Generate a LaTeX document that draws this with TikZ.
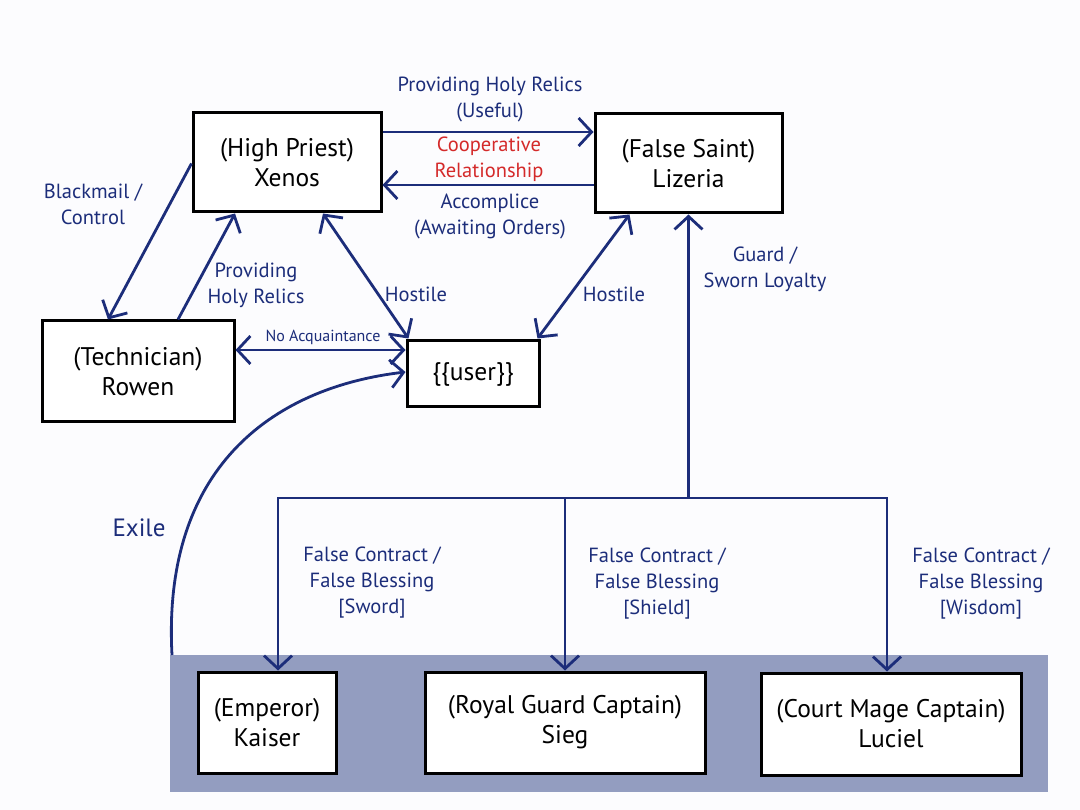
\documentclass[tikz,border=0pt]{standalone}
\usepackage{fontspec}
\setmainfont{PT Sans}
\usetikzlibrary{arrows.meta,calc}
\definecolor{navy}{HTML}{1C2D7A}
\definecolor{band}{HTML}{939DC0}
\definecolor{redlbl}{HTML}{D42A2A}
\definecolor{bg}{HTML}{FCFCFE}
\tikzset{
  person/.style={draw=black,line width=3pt,fill=white,align=center,inner sep=2pt,
    font=\fontsize{25.5}{30}\selectfont,text=black},
  tip/.style={},
  rel/.style={draw=navy,line width=2.8pt,-{Straight Barb[length=13pt,width=28pt,line width=2.8pt]}},
  relboth/.style={draw=navy,line width=2.8pt,{Straight Barb[length=13pt,width=28pt,line width=2.8pt]}-{Straight Barb[length=13pt,width=28pt,line width=2.8pt]}},
  plain/.style={draw=navy,line width=2.8pt},
  lbl/.style={text=navy,align=center,font=\fontsize{20.5}{26}\selectfont,inner sep=0pt},
}
\begin{document}
\begin{tikzpicture}[x=1pt,y=-1pt]
\useasboundingbox[fill=bg] (0,0) rectangle (1080,810);
% band
\fill[band] (170,655) rectangle (1048,792);
% nodes
\node[person,minimum width=188pt,minimum height=99pt] (xenos) at (287,162.5) {(High Priest)\\Xenos};
\node[person,minimum width=187pt,minimum height=99pt] (lizeria) at (688.5,163.5) {(False Saint)\\Lizeria};
\node[person,minimum width=192pt,minimum height=101pt] (rowen) at (138,371.5) {(Technician)\\Rowen};
\node[person,minimum width=132pt,minimum height=66pt] (user) at (473,374) {\{\{user\}\}};
\node[person,minimum width=138pt,minimum height=101pt] (kaiser) at (267,722.5) {(Emperor)\\Kaiser};
\node[person,minimum width=280pt,minimum height=101pt] (sieg) at (565,722.5) {(Royal Guard Captain)\\Sieg};
\node[person,minimum width=260pt,minimum height=102pt] (luciel) at (891,724) {(Court Mage Captain)\\Luciel};
% top arrows
\draw[rel] ([yshift=30.5pt]xenos.east) -- ([yshift=31.5pt]lizeria.west);
\draw[rel] ([yshift=-21.5pt]lizeria.west) -- ([yshift=-22.5pt]xenos.east);
\node[lbl] (l1) at (490,100) {Providing Holy Relics\\(Useful)};
\node[lbl,text=redlbl] (l2) at (489,159.5) {Cooperative\\Relationship};
\node[lbl] (l3) at (490,216) {Accomplice\\(Awaiting Orders)};
% left
\draw[rel] ([yshift=-1pt]xenos.west) -- ([xshift=-30pt]rowen.north);
\node[lbl] (l4) at (93,204) {Blackmail /\\Control};
\draw[rel] ([xshift=40pt]rowen.north) -- ([xshift=-52pt]xenos.south);
\node[lbl] (l5) at (256,285.5) {Providing\\Holy Relics};
% hostile
\draw[relboth] ([xshift=36pt]xenos.south) -- ([xshift=3pt,yshift=1pt]user.north west);
\node[lbl] (l6) at (416,294) {Hostile};
\draw[relboth] ([xshift=-59pt]lizeria.south) -- ([xshift=-3pt,yshift=1pt]user.north east);
\node[lbl] (l7) at (614,294) {Hostile};
% no acquaintance
\draw[relboth] ([yshift=21.5pt]rowen.east) -- ([yshift=24pt]user.west);
\node[lbl,font=\fontsize{16}{19}\selectfont] (l8) at (323,337) {No Acquaintance};
% guard
\coordinate (hub) at (688.5,498);
\coordinate (bl) at (278,498);
\coordinate (bm) at (565,498);
\coordinate (br) at (887,498);
\draw[rel] (hub) -- (lizeria.south);
\node[lbl] (l9) at (765,269) {Guard /\\Sworn Loyalty};
\draw[plain,line cap=rect] (bl) -- (br);
\draw[rel] (bl) -- (bl |- kaiser.north);
\draw[rel] (bm) -- (bm |- sieg.north);
\draw[rel] (br) -- (br |- luciel.north);
\node[lbl] (l10) at (372,583) {False Contract /\\False Blessing\\{[}Sword{]}};
\node[lbl] (l11) at (657,584) {False Contract /\\False Blessing\\{[}Shield{]}};
\node[lbl] (l12) at (981,584) {False Contract /\\False Blessing\\{[}Wisdom{]}};
% exile
\coordinate (exs) at (172,655);
\draw[rel] (exs) .. controls (162,470) and (270,388) .. ([yshift=2pt]user.west);
\node[lbl,font=\fontsize{25}{29}\selectfont] (l13) at (139,528) {Exile};
\end{tikzpicture}
\end{document}
